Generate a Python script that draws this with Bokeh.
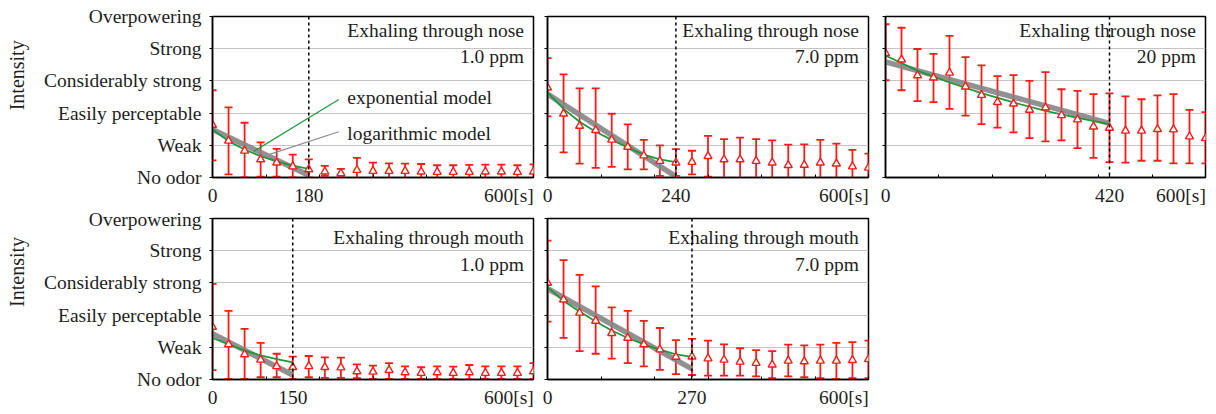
import math
from bokeh.plotting import figure
from bokeh.models import ColumnDataSource, Whisker, TeeHead, Span, FixedTicker, Range1d
from bokeh.layouts import column, row
from bokeh.core.properties import value
from bokeh.embed import file_html
from bokeh.resources import INLINE

FONT = "Liberation Serif"
FS = "19.5px"
TXT = "#1e1e1e"
RED = "#ff1a1a"
GREEN = "#1a9a3c"
GRAY = "#858585"

# ---------------- data ----------------
t = [0, 30, 60, 90, 120, 150, 180, 210, 240, 270, 300,
     330, 360, 390, 420, 450, 480, 510, 540, 570, 600]

intensity_labels = ["No odor", "Weak", "Easily perceptable",
                     "Considerably strong", "Strong", "Overpowering"]
end_label = "600[s]"
y_title = "Intensity"

# nose 1.0 ppm
n1_mean = [1.63, 1.14, 0.83, 0.56, 0.46, 0.34, 0.25, 0.18, 0.13, 0.23, 0.20,
           0.20, 0.20, 0.18, 0.17, 0.17, 0.17, 0.18, 0.18, 0.17, 0.18]
n1_hi = [2.71, 2.18, 1.70, 1.09, 0.89, 0.71, 0.56, 0.36, 0.27, 0.61, 0.46,
         0.44, 0.43, 0.42, 0.38, 0.38, 0.39, 0.40, 0.40, 0.38, 0.41]
n1_lo = [0.53, 0.10, 0.00, 0.03, 0.03, 0.00, 0.00, 0.05, 0.05, -0.12, -0.05,
         -0.05, -0.05, -0.03, -0.03, -0.03, -0.05, -0.03, -0.03, -0.05, -0.05]
n1_mt = [0, 30, 60, 90, 120, 150, 180]
n1_exp = [1.49, 1.13, 0.87, 0.66, 0.50, 0.37, 0.27]
n1_lt = [0, 180]
n1_log = [1.49, 0.07]

# nose 7.0 ppm
n2_mean = [2.79, 1.98, 1.60, 1.47, 1.17, 0.95, 0.68, 0.51, 0.46, 0.48, 0.66,
           0.56, 0.56, 0.51, 0.46, 0.38, 0.39, 0.46, 0.43, 0.34, 0.30]
n2_hi = [3.71, 3.20, 2.77, 2.77, 1.98, 1.65, 1.17, 1.00, 0.88, 0.83, 1.29,
         1.19, 1.24, 1.19, 1.15, 1.02, 1.03, 1.17, 1.05, 0.86, 0.74]
n2_lo = [1.90, 0.78, 0.43, 0.30, 0.33, 0.25, 0.25, 0.05, 0.05, 0.10, 0.03,
         -0.07, -0.15, -0.15, -0.20, -0.22, -0.20, -0.20, -0.17, -0.17, -0.13]
n2_mt = [0, 30, 60, 90, 120, 150, 180, 210, 240]
n2_exp = [2.64, 2.13, 1.73, 1.42, 1.17, 0.93, 0.71, 0.56, 0.48]
n2_lt = [0, 240]
n2_log = [2.59, 0.03]

# nose 20 ppm
n3_mean = [3.86, 3.66, 3.17, 3.10, 3.25, 2.82, 2.56, 2.34, 2.29, 2.10, 2.17,
           1.93, 1.80, 1.58, 1.54, 1.45, 1.45, 1.50, 1.49, 1.27, 1.22]
n3_hi = [4.76, 4.65, 3.99, 3.84, 4.40, 3.74, 3.48, 3.15, 3.18, 3.00, 3.27,
         2.74, 2.69, 2.59, 2.61, 2.52, 2.43, 2.55, 2.59, 2.10, 2.03]
n3_lo = [3.02, 2.71, 2.37, 2.34, 2.13, 1.92, 1.66, 1.55, 1.40, 1.22, 1.12,
         1.15, 0.91, 0.61, 0.48, 0.46, 0.52, 0.52, 0.44, 0.44, 0.44]
n3_mt = [0, 60, 120, 180, 240, 300, 360, 420]
n3_exp = [3.79, 3.32, 2.95, 2.62, 2.33, 2.07, 1.85, 1.66]
n3_lt = [0, 420]
n3_log = [3.59, 1.68]

# mouth 1.0 ppm
m1_mean = [1.63, 1.09, 0.78, 0.61, 0.41, 0.38, 0.41, 0.38, 0.37, 0.25, 0.24,
           0.29, 0.22, 0.20, 0.22, 0.20, 0.22, 0.20, 0.20, 0.20, 0.25]
m1_hi = [2.97, 2.13, 1.57, 1.14, 0.80, 0.71, 0.73, 0.69, 0.68, 0.47, 0.43,
         0.51, 0.41, 0.38, 0.41, 0.40, 0.45, 0.41, 0.41, 0.41, 0.51]
m1_lo = [0.29, 0.02, 0.02, 0.07, 0.07, 0.02, 0.07, 0.05, 0.05, 0.04, 0.02,
         0.02, 0.02, 0.02, 0.02, 0.02, 0.00, 0.02, 0.02, 0.02, 0.02]
m1_mt = [0, 30, 60, 90, 120, 150]
m1_exp = [1.29, 1.09, 0.90, 0.75, 0.63, 0.53]
m1_lt = [0, 150]
m1_log = [1.42, 0.14]

# mouth 7.0 ppm
m2_mean = [3.00, 2.48, 2.07, 1.82, 1.44, 1.29, 1.09, 0.93, 0.70, 0.71, 0.65,
           0.61, 0.55, 0.51, 0.46, 0.58, 0.56, 0.58, 0.58, 0.60, 0.63]
m2_hi = [4.31, 3.71, 3.25, 2.89, 2.24, 2.13, 1.82, 1.60, 1.22, 1.26, 1.21,
         1.09, 0.97, 0.91, 0.88, 1.08, 1.06, 1.08, 1.14, 1.16, 1.21]
m2_lo = [1.80, 1.29, 0.88, 0.80, 0.65, 0.51, 0.41, 0.30, 0.17, 0.14, 0.12,
         0.12, 0.12, 0.10, 0.04, 0.10, 0.07, 0.04, 0.02, 0.04, 0.04]
m2_mt = [0, 30, 60, 90, 120, 150, 180, 210, 240, 270]
m2_exp = [2.87, 2.44, 2.11, 1.80, 1.52, 1.29, 1.09, 0.93, 0.78, 0.70]
m2_lt = [0, 270]
m2_log = [2.82, 0.33]

panels = [
    dict(mean=n1_mean, hi=n1_hi, lo=n1_lo, mt=n1_mt, exp=n1_exp, lt=n1_lt, log=n1_log,
         vline=180, title="Exhaling through nose", conc="1.0 ppm"),
    dict(mean=n2_mean, hi=n2_hi, lo=n2_lo, mt=n2_mt, exp=n2_exp, lt=n2_lt, log=n2_log,
         vline=240, title="Exhaling through nose", conc="7.0 ppm"),
    dict(mean=n3_mean, hi=n3_hi, lo=n3_lo, mt=n3_mt, exp=n3_exp, lt=n3_lt, log=n3_log,
         vline=420, title="Exhaling through nose", conc="20 ppm"),
    dict(mean=m1_mean, hi=m1_hi, lo=m1_lo, mt=m1_mt, exp=m1_exp, lt=m1_lt, log=m1_log,
         vline=150, title="Exhaling through mouth", conc="1.0 ppm"),
    dict(mean=m2_mean, hi=m2_hi, lo=m2_lo, mt=m2_mt, exp=m2_exp, lt=m2_lt, log=m2_log,
         vline=270, title="Exhaling through mouth", conc="7.0 ppm"),
]

# tick position (data units) at which the right-aligned "600[s]" label is centred
END_LABEL_POS = 554
LABEL_W = 30  # width of the narrow strip holding the rotated "Intensity" title


def make_title_strip(height, y_pos):
    s = figure(width=LABEL_W, height=height, output_backend="svg", toolbar_location=None,
               x_range=Range1d(0, LABEL_W), y_range=Range1d(0, height),
               x_axis_location=None, y_axis_location=None,
               min_border_left=0, min_border_right=0, min_border_top=0, min_border_bottom=0,
               background_fill_color="white", border_fill_color="white")
    s.outline_line_color = None
    s.grid.visible = False
    s.text(x=[16.5], y=[y_pos], text=[y_title], angle=math.pi / 2,
           text_align="center", text_baseline="middle",
           text_font=value(FONT), text_font_size="20px", text_color=TXT)
    return s


def make_panel(d, width, height, mbl, mbr, mbt, mbb, ylabels, top_row, std):
    p = figure(width=width, height=height, output_backend="svg", toolbar_location=None,
               x_range=Range1d(0, 600), y_range=Range1d(0, 5),
               min_border_left=mbl, min_border_right=mbr,
               min_border_top=mbt, min_border_bottom=mbb,
               background_fill_color="white", border_fill_color="white")
    p.outline_line_color = "black"
    p.outline_line_width = 1.5
    p.outline_line_alpha = 1.0

    # y axis
    p.yaxis.ticker = FixedTicker(ticks=[0, 1, 2, 3, 4, 5])
    if ylabels:
        p.yaxis.major_label_overrides = {i: s for i, s in enumerate(intensity_labels)}
        p.yaxis.major_label_standoff = 8
    else:
        p.yaxis.major_label_overrides = {i: "" for i in range(6)}
        p.yaxis.major_label_standoff = 0
    p.yaxis.major_label_text_font = FONT
    p.yaxis.major_label_text_font_size = FS
    p.yaxis.major_label_text_color = TXT
    p.yaxis.major_tick_out = 3
    p.yaxis.major_tick_in = 0
    p.yaxis.minor_tick_line_color = None
    p.yaxis.axis_line_color = "black"
    p.yaxis.axis_line_width = 1.5
    p.yaxis.major_tick_line_color = "black"

    # x axis: labels on major ticks (no marks), small inner marks on minor ticks
    vl = d["vline"]
    p.xaxis.ticker = FixedTicker(ticks=[0, vl, END_LABEL_POS],
                                 minor_ticks=[0, 100, 200, 300, 400, 500, 600, vl])
    p.xaxis.major_label_overrides = {0: "0", vl: str(vl), END_LABEL_POS: end_label}
    p.xaxis.major_label_text_font = FONT
    p.xaxis.major_label_text_font_size = FS
    p.xaxis.major_label_text_color = TXT
    p.xaxis.major_label_standoff = std
    p.xaxis.major_tick_line_color = None
    p.xaxis.major_tick_in = 0
    p.xaxis.major_tick_out = 0
    p.xaxis.minor_tick_line_color = "black"
    p.xaxis.minor_tick_in = 3
    p.xaxis.minor_tick_out = 0
    p.xaxis.axis_line_color = "black"
    p.xaxis.axis_line_width = 1.5

    # grid
    p.xgrid.visible = False
    p.ygrid.ticker = FixedTicker(ticks=[1, 2, 3, 4])
    p.ygrid.grid_line_color = "#c4c4c4"
    p.ygrid.grid_line_width = 1

    # dashed vertical line
    p.add_layout(Span(location=vl, dimension="height", line_color="black",
                      line_dash="3 3", line_width=1.5))

    # models
    p.line(d["lt"], d["log"], line_color=GRAY, line_width=5.5, line_alpha=0.9)
    p.line(d["mt"], d["exp"], line_color=GREEN, line_width=1.8)

    # error bars + markers
    src = ColumnDataSource(dict(t=t, mean=d["mean"], hi=d["hi"], lo=d["lo"]))
    w = Whisker(base="t", upper="hi", lower="lo", source=src, dimension="height",
                line_color=RED, line_width=1.8,
                upper_head=TeeHead(size=8, line_color=RED, line_width=1.8),
                lower_head=TeeHead(size=8, line_color=RED, line_width=1.8))
    p.add_layout(w)
    p.scatter("t", "mean", source=src, marker="triangle", size=8,
              line_color=RED, fill_color="white", line_width=1.4)

    # panel titles
    ty1, ty2 = (4.55, 3.76) if top_row else (4.41, 3.57)
    p.text(x=[582, 582], y=[ty1, ty2], text=[d["title"], d["conc"]],
           text_align="right", text_baseline="middle",
           text_font=value(FONT), text_font_size=FS, text_color=TXT)
    return p


# page body has no margin in Bokeh's template, so leave 8 px at left/top ourselves
s1 = make_title_strip(208, 132)
s2 = make_title_strip(202, 135)
p1 = make_panel(panels[0], 540 - LABEL_W, 208, 212 - LABEL_W, 7, 16, 28, True, True, 7)
p2 = make_panel(panels[1], 336, 208, 7, 8, 16, 28, False, True, 7)
p3 = make_panel(panels[2], 332, 208, 9, 3, 16, 28, False, True, 7)
p4 = make_panel(panels[3], 540 - LABEL_W, 202, 212 - LABEL_W, 7, 10, 28, True, False, 7)
p5 = make_panel(panels[4], 336, 202, 7, 8, 10, 28, False, False, 7)

# legend-like annotations in panel 1
p1.line([236, 77], [2.42, 0.81], line_color=GREEN, line_width=1.2)
p1.line([236, 105], [1.42, 0.71], line_color="#8c8c8c", line_width=1.2)
p1.text(x=[252, 252], y=[2.49, 1.37], text=["exponential model", "logarithmic model"],
        text_align="left", text_baseline="middle",
        text_font=value(FONT), text_font_size=FS, text_color=TXT)

layout = column(row(s1, p1, p2, p3), row(s2, p4, p5))

with open("out.html", "w") as f:
    f.write(file_html(layout, INLINE))
